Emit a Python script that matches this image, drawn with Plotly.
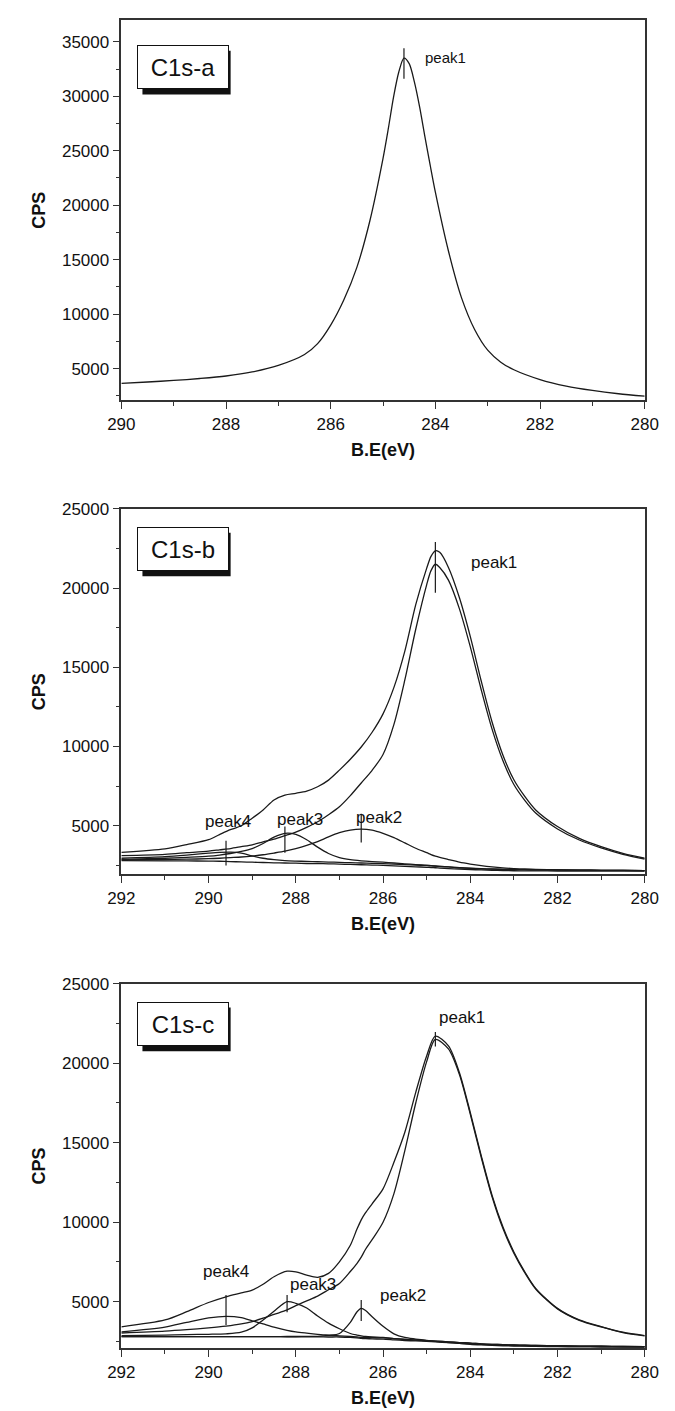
import plotly.graph_objects as go

# ---------------- Panel a (C1s-a) ----------------
a_x = [290, 289.5, 289, 288.5, 288, 287.5, 287, 286.5, 286.25, 286, 285.75, 285.5, 285.25, 285,
       284.9, 284.8, 284.7, 284.6, 284.5, 284.4, 284.3, 284.2, 284.1, 284, 283.75, 283.5, 283.25,
       283, 282.75, 282.5, 282, 281.5, 281, 280.5, 280]
a_env = [3650, 3780, 3920, 4100, 4330, 4700, 5300, 6300, 7300, 9000, 11300, 14300, 18600, 24300,
         27000, 29900, 32200, 33500, 33000, 31300, 29000, 26300, 23700, 21200, 15800, 11500, 8600,
         6700, 5600, 4900, 4000, 3400, 3000, 2700, 2480]
a_peaks = ["peak1"]
a_peak_x = [284.6]
a_peak_y0 = [31600]
a_peak_y1 = [34400]
a_lab_x = [283.8]
a_lab_y = [33600]

# ---------------- Panel b (C1s-b) ----------------
b_x = [292, 291, 290.5, 290, 289.75, 289.5, 289.25, 289, 288.75, 288.5, 288.25, 288, 287.75, 287.5,
       287.25, 287, 286.75, 286.5, 286.25, 286, 285.75, 285.5, 285.25, 285, 284.9, 284.8, 284.7,
       284.5, 284.25, 284, 283.75, 283.5, 283.25, 283, 282.75, 282.5, 282, 281.5, 281, 280.5, 280]
b_env = [3320, 3540, 3810, 4120, 4440, 4750, 5000, 5480, 6000, 6630, 6940, 7050, 7190, 7460,
         7880, 8510, 9200, 9970, 10900, 12060, 13730, 16020, 18950, 21240, 22000, 22350, 22250,
         21300, 19400, 16950, 14150, 11550, 9450, 7900, 6850, 6000, 4950, 4200, 3680, 3260, 2950]
b_p1 = [3120, 3200, 3300, 3400, 3480, 3560, 3680, 3800, 3980, 4150, 4370, 4600, 4900, 5250,
        5700, 6200, 6900, 7700, 8500, 9500, 11400, 14200, 17400, 20200, 21100, 21500, 21300,
        20500, 18700, 16300, 13600, 11100, 9100, 7600, 6600, 5800, 4800, 4100, 3600, 3200, 2900]
b_p2 = [2850, 2870, 2890, 2920, 2950, 2990, 3030, 3090, 3170, 3280, 3400, 3560, 3760, 4000,
        4300, 4560, 4730, 4790, 4720, 4520, 4250, 3920, 3580, 3300, 3180, 3080, 3000,
        2870, 2700, 2580, 2480, 2400, 2340, 2300, 2270, 2250, 2220, 2200, 2190, 2180, 2170]
b_p3 = [2880, 2950, 3010, 3080, 3150, 3250, 3380, 3560, 3880, 4280, 4520, 4460, 4120, 3650,
        3250, 2990, 2860, 2790, 2740, 2700, 2650, 2600, 2550, 2510, 2480, 2460, 2440,
        2400, 2350, 2310, 2280, 2260, 2250, 2240, 2230, 2220, 2210, 2200, 2190, 2180, 2170]
b_p4 = [2950, 3050, 3150, 3270, 3320, 3340, 3280, 3100, 2950, 2860, 2800, 2770, 2750, 2730,
        2710, 2690, 2670, 2650, 2630, 2610, 2580, 2550, 2520, 2490, 2470, 2450, 2430,
        2400, 2360, 2320, 2290, 2270, 2250, 2240, 2230, 2220, 2210, 2200, 2190, 2180, 2170]
b_bg = [2800, 2790, 2780, 2770, 2760, 2740, 2720, 2700, 2680, 2660, 2650, 2640, 2620, 2610,
        2600, 2580, 2560, 2540, 2520, 2500, 2470, 2440, 2410, 2380, 2360, 2350, 2330,
        2300, 2270, 2240, 2210, 2190, 2170, 2160, 2155, 2150, 2145, 2140, 2140, 2140, 2140]
b_peaks = ["peak1", "peak2", "peak3", "peak4"]
b_peak_x = [284.8, 286.5, 288.25, 289.6]
b_peak_y0 = [19700, 3950, 3300, 2500]
b_peak_y1 = [22900, 5750, 4950, 4050]
b_lab_x = [283.45, 286.1, 287.9, 289.55]
b_lab_y = [21600, 5550, 5380, 5280]

# ---------------- Panel c (C1s-c) ----------------
c_x = [292, 291, 290.5, 290, 289.6, 289.25, 289, 288.75, 288.5, 288.2, 288, 287.75, 287.5, 287.25,
       287, 286.75, 286.6, 286.5, 286.4, 286.25, 286, 285.75, 285.5, 285.25, 285, 284.8,
       284.5, 284.25, 284, 283.75, 283.5, 283.25, 283, 282.75, 282.5, 282, 281.5, 281, 280.5, 280]
c_env = [3420, 3850, 4370, 4950, 5310, 5550, 5730, 6100, 6570, 6920, 6880, 6670, 6530, 6780,
         7510, 8550, 9550, 10150, 10600, 11160, 12100, 13770, 15660, 18170, 20460, 21700,
         21090, 19420, 16910, 14200, 11690, 9700, 8130, 6880, 5840, 4580, 3850, 3430, 3080, 2870]
c_p1 = [3030, 3150, 3240, 3350, 3460, 3600, 3750, 3960, 4200, 4480, 4750, 5050, 5350, 5750,
        6150, 6900, 7400, 7800, 8300, 8900, 10000, 11800, 14500, 17500, 20100, 21500,
        20900, 19300, 16800, 14100, 11600, 9600, 8050, 6820, 5800, 4550, 3830, 3410, 3060, 2850]
c_p2 = [2800, 2800, 2800, 2800, 2800, 2800, 2800, 2800, 2800, 2810, 2810, 2815, 2820, 2880,
        3000, 3700, 4350, 4580, 4450, 4050, 3450, 2980, 2750, 2650, 2560, 2500,
        2430, 2380, 2340, 2310, 2280, 2260, 2240, 2230, 2220, 2200, 2190, 2180, 2170, 2160]
c_p3 = [2870, 2900, 2930, 2950, 2980, 3080, 3350, 3850, 4400, 5000, 4900, 4600, 4100, 3650,
        3300, 3000, 2900, 2850, 2810, 2780, 2750, 2680, 2620, 2580, 2550, 2520,
        2470, 2430, 2400, 2350, 2320, 2300, 2280, 2260, 2250, 2230, 2210, 2200, 2180, 2170]
c_p4 = [3100, 3400, 3700, 3980, 4080, 4000, 3800, 3600, 3400, 3200, 3100, 3020, 2950, 2900,
        2850, 2810, 2780, 2760, 2750, 2740, 2720, 2680, 2640, 2600, 2550, 2520,
        2470, 2430, 2400, 2350, 2320, 2300, 2280, 2260, 2250, 2230, 2210, 2200, 2180, 2170]
c_bg = [2800, 2800, 2800, 2800, 2800, 2800, 2800, 2800, 2800, 2795, 2795, 2790, 2785, 2780,
        2780, 2760, 2730, 2700, 2680, 2660, 2640, 2600, 2560, 2530, 2500, 2470,
        2420, 2380, 2320, 2280, 2250, 2230, 2210, 2200, 2190, 2170, 2160, 2150, 2150, 2150]
c_peaks = ["peak1", "peak2", "peak3", "peak4"]
c_peak_x = [284.8, 286.5, 288.2, 289.6]
c_peak_y0 = [21050, 3790, 4330, 3540]
c_peak_y1 = [21970, 5100, 5420, 5420]
c_lab_x = [284.2, 285.55, 287.6, 289.6]
c_lab_y = [22900, 5420, 6090, 6920]

panel_labels = ["C1s-a", "C1s-b", "C1s-c"]
x_ranges = [[290, 280], [292, 280], [292, 280]]
y_ranges = [[2082, 37006], [1928, 25000], [2062, 25000]]
y_ticks = [[5000, 10000, 15000, 20000, 25000, 30000, 35000],
           [5000, 10000, 15000, 20000, 25000],
           [5000, 10000, 15000, 20000, 25000]]

W, H = 675, 1411
ax_left, ax_right = 112, 658
panel_px = [(11, 394), (503, 871), (981, 1348)]

fig = go.Figure()
LINE = dict(color="#1a1a1a", width=1.3)

panels = [
    (a_x, [a_env], a_peaks, a_peak_x, a_peak_y0, a_peak_y1, a_lab_x, a_lab_y),
    (b_x, [b_env, b_p1, b_p2, b_p3, b_p4, b_bg], b_peaks, b_peak_x, b_peak_y0, b_peak_y1, b_lab_x, b_lab_y),
    (c_x, [c_env, c_p1, c_p2, c_p3, c_p4, c_bg], c_peaks, c_peak_x, c_peak_y0, c_peak_y1, c_lab_x, c_lab_y),
]

FONT = "Liberation Sans, Arial, sans-serif"
annotations = []
shapes = []
for i, (xs, curves, pk, px, py0, py1, lx, ly) in enumerate(panels):
    n = "" if i == 0 else str(i + 1)
    xa, ya = "x" + n, "y" + n
    for ys in curves:
        fig.add_trace(go.Scatter(x=xs, y=ys, mode="lines", line=dict(shape="spline", smoothing=0.8, **LINE),
                                 xaxis=xa, yaxis=ya, showlegend=False, hoverinfo="skip"))
    for k in range(len(pk)):
        fig.add_trace(go.Scatter(x=[px[k], px[k]], y=[py0[k], py1[k]], mode="lines",
                                 line=dict(color="#1a1a1a", width=1.2),
                                 xaxis=xa, yaxis=ya, showlegend=False, hoverinfo="skip"))
        annotations.append(dict(x=lx[k], y=ly[k], xref=xa, yref=ya, text=pk[k], showarrow=False,
                                font=dict(family=FONT, size=15 if i == 0 else 17, color="#111"),
                                xanchor="center", yanchor="middle"))
    # label box with drop shadow
    top, bot = panel_px[i]
    box_top = top + (25 if i == 0 else 18)
    box_left, bw, bh, off = 128, 92, 44, 6
    shapes.append(dict(type="rect", xref="paper", yref="paper",
                       x0=(box_left + off) / W, x1=(box_left + off + bw) / W,
                       y0=1 - (box_top + off + bh) / H, y1=1 - (box_top + off) / H,
                       fillcolor="#111", line=dict(width=0), layer="above"))
    annotations.append(dict(x=box_left / W, y=1 - box_top / H, xref="paper", yref="paper",
                            text=panel_labels[i], showarrow=False, xanchor="left", yanchor="top",
                            width=bw - 2, height=bh - 2, borderpad=0,
                            bgcolor="white", bordercolor="#111", borderwidth=1,
                            font=dict(family=FONT, size=24, color="#111")))

layout = dict(width=W, height=H, margin=dict(l=0, r=0, t=0, b=0), plot_bgcolor="white", paper_bgcolor="white",
              annotations=annotations, shapes=shapes, showlegend=False)
for i in range(3):
    n = "" if i == 0 else str(i + 1)
    top, bot = panel_px[i]
    dom_y = [1 - bot / H, 1 - top / H]
    common = dict(showline=True, linecolor="#333", linewidth=1.5, mirror=True, ticks="outside",
                  ticklen=7, tickwidth=1.2, tickcolor="#333", showgrid=False, zeroline=False,
                  tickfont=dict(family=FONT, size=17, color="#111"))
    layout["xaxis" + n] = dict(domain=[ax_left / W, ax_right / W], range=x_ranges[i], anchor="y" + n,
                               tickmode="array", tickvals=list(range(x_ranges[i][1], x_ranges[i][0] + 1, 2)),
                               minor=dict(ticks="outside", ticklen=4, tickcolor="#333", dtick=1, tick0=280),
                               title=dict(text="<b>B.E(eV)</b>", font=dict(family=FONT, size=18, color="#111"), standoff=11),
                               **common)
    layout["yaxis" + n] = dict(domain=dom_y, range=y_ranges[i], anchor="x" + n,
                               tickmode="array", tickvals=y_ticks[i], tickformat="d",
                               minor=dict(ticks="outside", ticklen=4, tickcolor="#333", dtick=2500, tick0=0),
                               title=dict(text="<b>CPS</b>", font=dict(family=FONT, size=18, color="#111"), standoff=12),
                               **common)
fig.update_layout(**layout)
fig.write_html("out.html")
